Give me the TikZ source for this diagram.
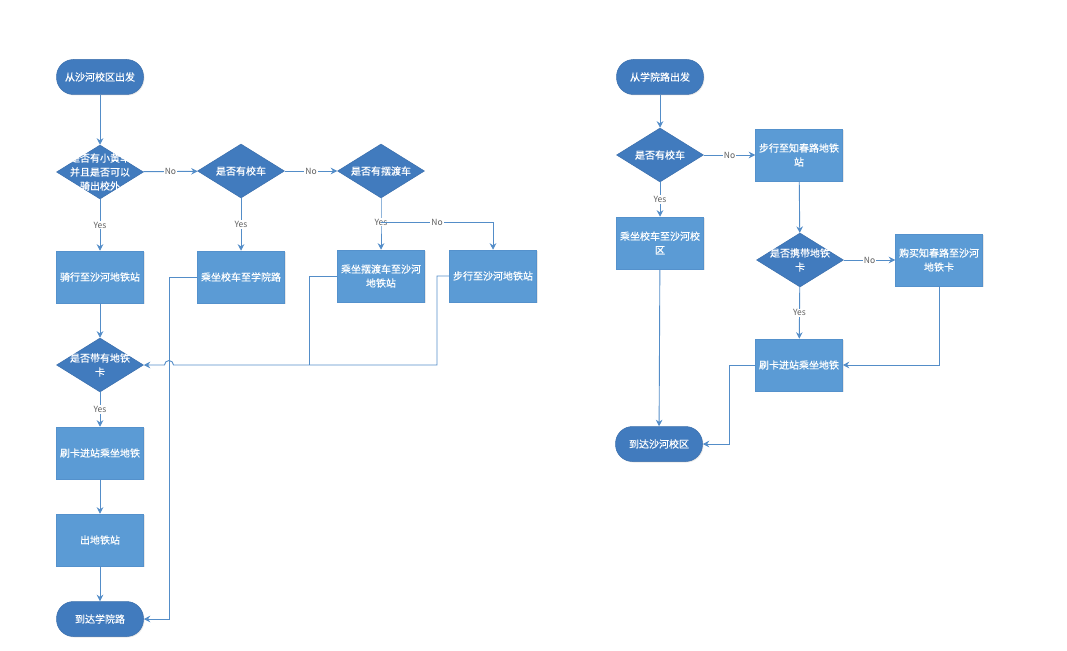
\documentclass[tikz,border=0pt]{standalone}
\usepackage{fontspec}
\setmainfont{Noto Sans CJK SC}
\newfontfamily\cjkm{Noto Sans CJK SC}[FakeBold=0.5]
\usetikzlibrary{shapes.geometric,arrows.meta,shadows}
\definecolor{boxfill}{RGB}{91,155,213}
\definecolor{boxline}{RGB}{84,145,204}
\definecolor{darkfill}{RGB}{65,123,190}
\definecolor{darkline}{RGB}{58,110,172}
\definecolor{conn}{RGB}{84,141,200}
\definecolor{lblgray}{RGB}{95,95,95}
\tikzset{
  procbox/.style={rectangle, fill=boxfill, draw=boxline, line width=0.5pt,
    minimum width=87pt, minimum height=52pt, inner sep=2pt, text width=82pt, align=center,
    text=white, font=\cjkm\fontsize{10}{14}\selectfont,
    drop shadow={opacity=0.18, shadow xshift=1pt, shadow yshift=-1pt}},
  term/.style={rectangle, rounded corners=17pt, fill=darkfill, draw=darkline, line width=0.5pt,
    minimum width=87pt, minimum height=35pt, inner sep=2pt, text=white,
    font=\cjkm\fontsize{10}{12}\selectfont,
    drop shadow={opacity=0.18, shadow xshift=1pt, shadow yshift=-1pt}},
  decis/.style={diamond, fill=darkfill, draw=darkline, line width=0.5pt,
    minimum width=87pt, minimum height=54pt, inner sep=0pt, aspect=1.6,
    label={[text=white, align=center, font=\cjkm\fontsize{10}{14}\selectfont]center:#1}},
  arr/.style={draw=conn, line width=0.9pt, -{Stealth[length=6.5pt,width=6.5pt,fill=conn]}},
  ln/.style={draw=conn, line width=0.9pt},
  lbl/.style={fill=white, inner sep=1pt, text=lblgray, font=\fontsize{8.5}{10}\selectfont}
}
\begin{document}
\begin{tikzpicture}[x=1pt,y=-1pt]
\useasboundingbox (0,0) rectangle (1067,650);
% ---------- left flow ----------
\node[term] (s1) at (100,77) {从沙河校区出发};
\node[decis={是否有小黄车\\并且是否可以\\骑出校外}] (d1) at (100,172) {};
\node[decis={是否有校车}] (d2) at (241,171) {};
\node[decis={是否有摆渡车}] (d3) at (381,171) {};
\node[procbox] (b1) at (100,277) {骑行至沙河地铁站};
\node[procbox] (b2) at (241,277) {乘坐校车至学院路};
\node[procbox] (b3) at (381,276) {乘坐摆渡车至沙河\\地铁站};
\node[procbox] (b4) at (493,276) {步行至沙河地铁站};
\node[decis={是否带有地铁\\卡}] (d4) at (100,365) {};
\node[procbox] (b5) at (100,453) {刷卡进站乘坐地铁};
\node[procbox] (b6) at (100,540) {出地铁站};
\node[term] (e1) at (100,619) {到达学院路};
\coordinate (j3) at (381,222);
\coordinate (m3) at (309,276);
\coordinate (m4) at (437,276);
\coordinate (h4) at (437,365);
\coordinate (hopR) at (173.5,365);
\coordinate (m2) at (169,277);

\draw[arr] (s1) -- (d1);
\draw[arr] (d1) -- node[lbl]{No} (d2);
\draw[arr] (d2) -- node[lbl]{No} (d3);
\draw[arr] (d1) -- node[lbl]{Yes} (b1);
\draw[arr] (d2) -- node[lbl]{Yes} (b2);
\draw[arr] (d3) -- (j3) node[lbl]{Yes} -- (b3);
\draw[arr] (j3) -| node[lbl,pos=0.25]{No} (b4);
\draw[arr] (b1) -- (d4);
\draw[ln] (b3.west) -- (m3) -- (309,365);
\draw[arr] (b4.west) -- (m4) -- (h4) -- (hopR) arc[start angle=0, end angle=-180, radius=4.5] -- (d4.east);
\draw[arr] (b2.west) -- (m2) |- (e1.east);
\draw[arr] (d4) -- node[lbl]{Yes} (b5);
\draw[arr] (b5) -- (b6);
\draw[arr] (b6) -- (e1);
% ---------- right flow ----------
\node[term] (s2) at (660,77) {从学院路出发};
\node[decis={是否有校车}] (rd1) at (660,155) {};
\node[procbox] (rb1) at (799,155) {步行至知春路地铁\\站};
\node[procbox] (rb2) at (660,243) {乘坐校车至沙河校\\区};
\node[decis={是否携带地铁\\卡}] (rd2) at (800,260) {};
\node[procbox] (rb3) at (939,260) {购买知春路至沙河\\地铁卡};
\node[procbox] (rb4) at (799,365) {刷卡进站乘坐地铁};
\node[term] (e2) at (659,444) {到达沙河校区};
\coordinate (m5) at (729,365);

\draw[arr] (s2) -- (rd1);
\draw[arr] (rd1) -- node[lbl]{No} (rb1);
\draw[arr] (rd1) -- node[lbl]{Yes} (rb2);
\draw[arr] (rb1) -- (rd2);
\draw[arr] (rd2) -- node[lbl]{No} (rb3);
\draw[arr] (rd2) -- node[lbl]{Yes} (rb4);
\draw[arr] (rb3.south) |- (rb4.east);
\draw[arr] (rb4.west) -- (m5) |- (e2.east);
\draw[arr] (rb2) -- (e2);
\end{tikzpicture}
\end{document}
